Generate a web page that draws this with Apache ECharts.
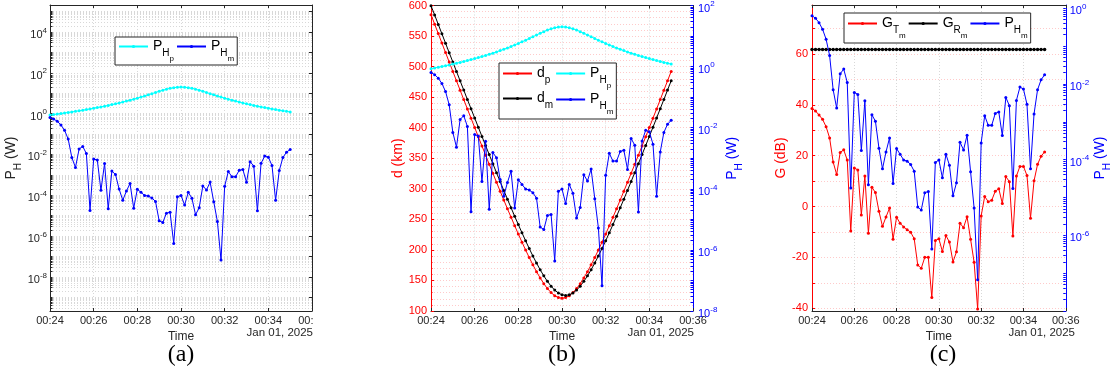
<!DOCTYPE html>
<html><head><meta charset="utf-8">
<script src="https://cdn.jsdelivr.net/npm/echarts@6/dist/echarts.min.js"></script>
<style>html,body{margin:0;padding:0;background:#fff}#c{width:1114px;height:379px}</style>
</head><body><div id="c"></div>
<script>
// ---------------- data ----------------
const timeSec = [0,10,20,30,40,50,60,70,80,90,100,110,120,130,140,150,160,170,180,190,200,210,220,230,240,250,260,270,280,290,300,310,320,330,340,350,360,370,380,390,400,410,420,430,440,450,460,470,480,490,500,510,520,530,540,550,560,570,580,590,600,610,620,630,640,650,660];
const timeTickLabels = ['00:24','00:26','00:28','00:30','00:32','00:34','00:36'];
const PHp = [0.854,0.902,0.953,1.008,1.069,1.135,1.207,1.287,1.374,1.470,
 1.576,1.694,1.825,1.971,2.134,2.318,2.526,2.761,3.028,3.334,
 3.684,4.088,4.555,5.097,5.728,6.465,7.324,8.326,9.487,10.82,
 12.32,13.95,15.65,17.29,18.68,19.63,19.97,19.63,18.68,17.29,
 15.65,13.95,12.32,10.82,9.487,8.326,7.324,6.465,5.728,5.097,
 4.555,4.088,3.684,3.334,3.028,2.761,2.526,2.318,2.134,1.971,
 1.825,1.694,1.576,1.470,1.374,1.287,1.207];
const PHm = [6.40e-1,5.45e-1,4.18e-1,2.79e-1,1.52e-1,5.65e-2,7.03e-3,2.31e-3,1.86e-2,2.47e-2,
 1.10e-2,1.77e-5,5.98e-3,5.30e-3,1.74e-4,3.61e-3,2.16e-5,1.54e-3,1.03e-3,2.00e-4,
 5.71e-5,1.60e-4,3.75e-4,2.34e-5,1.96e-4,1.39e-4,9.86e-5,9.10e-5,7.43e-5,4.95e-5,
 5.58e-6,4.66e-6,1.33e-5,1.45e-5,4.37e-7,8.39e-5,9.86e-5,3.31e-5,1.39e-4,7.13e-5,
 1.11e-5,2.44e-5,2.88e-4,1.81e-4,4.41e-4,4.76e-5,5.25e-6,6.65e-8,2.77e-4,1.45e-3,
 8.09e-4,8.09e-4,1.67e-3,1.82e-3,4.32e-4,4.42e-3,2.67e-3,1.73e-5,3.68e-3,8.26e-3,
 7.33e-3,2.89e-3,5.71e-5,1.61e-3,7.03e-3,1.29e-2,1.75e-2];
const dp = [585.0,569.5,554.0,538.5,523.0,507.5,492.1,476.7,461.3,446.0,
 430.7,415.5,400.3,385.2,370.1,355.1,340.2,325.4,310.7,296.1,
 281.7,267.4,253.4,239.5,225.9,212.7,199.8,187.4,175.6,164.4,
 154.1,144.8,136.7,130.1,125.1,122.0,121.0,122.0,125.1,130.1,
 136.7,144.8,154.1,164.4,175.6,187.4,199.8,212.7,225.9,239.5,
 253.4,267.4,281.7,296.1,310.7,325.4,340.2,355.1,370.1,385.2,
 400.3,415.5,430.7,446.0,461.3,476.7,492.1];
const dm = [599.6,584.6,569.1,553.6,538.2,522.8,507.5,492.1,476.7,461.5,
 446.2,431.1,415.9,400.8,385.8,370.8,356.0,341.1,326.4,311.9,
 297.4,283.1,269.0,255.0,241.4,228.0,214.9,202.2,190.0,178.5,
 167.5,157.5,148.5,140.6,134.2,129.4,126.5,125.5,126.5,129.4,
 134.2,140.6,148.5,157.5,167.5,178.5,190.0,202.2,214.9,228.0,
 241.4,255.0,269.0,283.1,297.4,311.9,326.4,341.1,356.0,370.8,
 385.8,400.8,415.9,431.1,446.2,461.5,476.7];
const GTm = [38.6,37.6,36.0,34.3,31.4,27.0,17.5,12.6,21.3,22.3,
 18.3,-9.6,15.2,14.4,-3.3,12.0,-10.5,7.6,5.5,-1.9,
 -7.8,-4.1,-0.6,-12.9,-4.2,-6.6,-8.0,-9.1,-10.1,-12.7,
 -23.0,-24.3,-20.0,-20.0,-35.8,-13.4,-12.7,-17.7,-11.4,-14.0,
 -21.8,-17.8,-6.6,-8.3,-4.0,-12.9,-21.9,-40.3,-3.7,4.0,
 1.9,2.5,6.0,7.0,1.2,11.8,9.8,-11.6,12.0,15.8,
 15.8,12.2,-4.6,10.1,16.6,19.8,21.5];
const GRm = [61.8,61.8,61.8,61.8,61.8,61.8,61.8,61.8,61.8,61.8,
 61.8,61.8,61.8,61.8,61.8,61.8,61.8,61.8,61.8,61.8,
 61.8,61.8,61.8,61.8,61.8,61.8,61.8,61.8,61.8,61.8,
 61.8,61.8,61.8,61.8,61.8,61.8,61.8,61.8,61.8,61.8,
 61.8,61.8,61.8,61.8,61.8,61.8,61.8,61.8,61.8,61.8,
 61.8,61.8,61.8,61.8,61.8,61.8,61.8,61.8,61.8,61.8,
 61.8,61.8,61.8,61.8,61.8,61.8,61.8];
const expLabelsA = [-8,-6,-4,-2,0,2,4];
const expLabelsB = [-8,-6,-4,-2,0,2];
const expLabelsC = [-6,-4,-2,0];
const dTicksC = [-40,-20,0,20,40,60];
const dGridC = [-40,-30,-20,-10,0,10,20,30,40,50,60,70];
const dateLabel = 'Jan 01, 2025';
const captions = ['(a)','(b)','(c)'];

// ---------------- helpers ----------------
const F = 'Liberation Sans, Arial, sans-serif';
const DARK = '#262626';
const RED = '#ff0000', BLUE = '#0000ff', CYAN = '#00ffff', BLACK = '#000000';
const PINK = '#ffcaca';
const GRAY = '#d8d8d8';
function minorLog(lo, hi) {
  const out = [];
  for (let n = Math.floor(lo); n <= Math.ceil(hi); n++)
    for (let k = 1; k <= 9; k++) { const v = n + Math.log10(k); if (v >= lo - 1e-9 && v <= hi + 1e-9) out.push(v); }
  return out;
}
function decades(lo, hi) { const o = []; for (let n = Math.ceil(lo); n <= Math.floor(hi); n++) o.push(n); return o; }
function logRich(color) {
  return {
    b: {fontSize: 11, fontFamily: F, color: color, lineHeight: 11, padding: [3,0,0,0], verticalAlign: 'top'},
    e: {fontSize: 8, fontFamily: F, color: color, lineHeight: 8, verticalAlign: 'top'}
  };
}
function nameRich(color) {
  return {
    a: {fontSize: 14, fontFamily: F, color: color, lineHeight: 15, padding: [0,0,6,0], verticalAlign: 'top'},
    s: {fontSize: 10, fontFamily: F, color: color, lineHeight: 10, padding: [9,0,0,0], verticalAlign: 'top'}
  };
}
const legRich = {
  P: {fontSize: 14, fontFamily: F, color: '#000', lineHeight: 15, padding: [0,0,9,0], verticalAlign: 'top'},
  s1: {fontSize: 10, fontFamily: F, color: '#000', lineHeight: 10, padding: [9,0,0,0], verticalAlign: 'top'},
  s2: {fontSize: 8, fontFamily: F, color: '#000', lineHeight: 8, padding: [16,0,0,0], verticalAlign: 'top'}
};
const legText = {
  aPHp: '{P|P}{s1|H}{s2|p}', aPHm: '{P|P}{s1|H}{s2|m}',
  bdp: '{P|d}{s1|p}', bdm: '{P|d}{s1|m}', bPHp: '{P|P}{s1|H}{s2|p}', bPHm: '{P|P}{s1|H}{s2|m}',
  cGT: '{P|G}{s1|T}{s2|m}', cGR: '{P|G}{s1|R}{s2|m}', cPHm: '{P|P}{s1|H}{s2|m}'
};
const logFmt = v => '{b|10}{e|' + Math.round(v) + '}';
const PH_NAME = '{a|P}{s|H}{a| (W)}';

const gridPos = [{left: 50}, {left: 431}, {left: 812}];
const grids = gridPos.map(g => ({left: g.left, top: 5, width: 262, height: 306, containLabel: false}));

function xBottom(gi) {
  return {type: 'value', gridIndex: gi, position: 'bottom', min: 0, max: 720, interval: 120,
    axisLine: {show: true, onZero: false, lineStyle: {color: DARK, width: 1}},
    axisTick: {show: true, inside: true, length: 3, lineStyle: {color: DARK}},
    axisLabel: {formatter: v => timeTickLabels[Math.round(v / 120)], color: DARK, fontSize: 11, fontFamily: F, margin: 4, showMinLabel: true, showMaxLabel: true},
    splitLine: {show: true, lineStyle: {color: GRAY, type: [1, 2]}},
    name: 'Time', nameLocation: 'middle', nameGap: 16, nameTextStyle: {color: DARK, fontSize: 12, fontFamily: F}};
}
function xTop(gi) {
  return {type: 'value', gridIndex: gi, position: 'top', min: 0, max: 720, interval: 120,
    axisLine: {show: true, onZero: false, lineStyle: {color: DARK, width: 1}},
    axisTick: {show: true, inside: true, length: 3, lineStyle: {color: DARK}},
    axisLabel: {show: false}, splitLine: {show: false}};
}
const A_MIN = -9.67, A_MAX = 5.32, C_LMIN = -41.1, C_LMAX = 79.3, C_RMIN = -8, C_RMAX = 0.087;

const yAxes = [
  // (a) left
  {type: 'value', gridIndex: 0, position: 'left', min: A_MIN, max: A_MAX,
    axisLine: {show: true, onZero: false, lineStyle: {color: DARK}},
    axisTick: {show: true, inside: true, length: 2.5, customValues: minorLog(A_MIN, A_MAX), lineStyle: {color: DARK}},
    axisLabel: {customValues: expLabelsA, formatter: logFmt, rich: logRich(DARK), margin: 3},
    splitLine: {show: true, lineStyle: {color: GRAY, type: [1, 2]}},
    name: PH_NAME, nameLocation: 'middle', nameGap: 25, nameRotate: 90, nameTextStyle: {rich: nameRich(DARK)}},
  // (a) right (box)
  {type: 'value', gridIndex: 0, position: 'right', min: A_MIN, max: A_MAX,
    axisLine: {show: true, onZero: false, lineStyle: {color: DARK}},
    axisTick: {show: true, inside: true, length: 3, customValues: decades(A_MIN, A_MAX), lineStyle: {color: DARK}},
    axisLabel: {show: false}, splitLine: {show: false}},
  // (b) left
  {type: 'value', gridIndex: 1, position: 'left', min: 100, max: 600, interval: 50,
    axisLine: {show: true, onZero: false, lineStyle: {color: RED}},
    axisTick: {show: true, inside: true, length: 3, lineStyle: {color: RED}},
    minorTick: {show: true, splitNumber: 5, length: 1.5, lineStyle: {color: RED}},
    axisLabel: {color: RED, fontSize: 11, fontFamily: F, margin: 4, showMinLabel: true, showMaxLabel: true},
    splitLine: {show: true, lineStyle: {color: PINK, type: [1, 2]}},
    minorSplitLine: {show: true, lineStyle: {color: PINK, type: [1, 2]}},
    name: 'd (km)', nameLocation: 'middle', nameGap: 24, nameRotate: 90, nameTextStyle: {color: RED, fontSize: 14, fontFamily: F}},
  // (b) right
  {type: 'value', gridIndex: 1, position: 'right', min: -8, max: 2, interval: 2,
    axisLine: {show: true, onZero: false, lineStyle: {color: BLUE}},
    axisTick: {show: true, inside: true, length: 2.5, customValues: minorLog(-8, 2), lineStyle: {color: BLUE}},
    axisLabel: {customValues: expLabelsB, formatter: logFmt, rich: logRich(BLUE), margin: 5},
    splitLine: {show: false},
    name: PH_NAME, nameLocation: 'middle', nameGap: 32, nameRotate: 90, nameTextStyle: {rich: nameRich(BLUE)}},
  // (c) left
  {type: 'value', gridIndex: 2, position: 'left', min: C_LMIN, max: C_LMAX,
    axisLine: {show: true, onZero: false, lineStyle: {color: RED}},
    axisTick: {show: true, inside: true, length: 3, customValues: dGridC, lineStyle: {color: RED}},
    axisLabel: {customValues: dTicksC, color: RED, fontSize: 11, fontFamily: F, margin: 4},
    splitLine: {show: true, lineStyle: {color: PINK, type: [1, 2]}},
    name: 'G (dB)', nameLocation: 'middle', nameGap: 24, nameRotate: 90, nameTextStyle: {color: RED, fontSize: 14, fontFamily: F}},
  // (c) right
  {type: 'value', gridIndex: 2, position: 'right', min: C_RMIN, max: C_RMAX,
    axisLine: {show: true, onZero: false, lineStyle: {color: BLUE}},
    axisTick: {show: true, inside: true, length: 2.5, customValues: minorLog(C_RMIN, C_RMAX), lineStyle: {color: BLUE}},
    axisLabel: {customValues: expLabelsC, formatter: logFmt, rich: logRich(BLUE), margin: 4},
    splitLine: {show: false},
    name: PH_NAME, nameLocation: 'middle', nameGap: 21, nameRotate: 90, nameTextStyle: {rich: nameRich(BLUE)}}
];

function ser(name, xi, yi, vals, color, isLog, size, z) {
  return {name: name, type: 'line', xAxisIndex: xi, yAxisIndex: yi,
    data: timeSec.map((t, i) => [t, isLog ? Math.log10(vals[i]) : vals[i]]),
    symbol: 'circle', symbolSize: size || 3, showSymbol: true,
    lineStyle: {color: color, width: 1}, itemStyle: {color: color},
    z: z || 2, silent: true, animation: false};
}
const series = [
  ser('aPHp', 0, 0, PHp, CYAN, true, 3),
  ser('aPHm', 0, 0, PHm, BLUE, true, 3),
  ser('bdp', 2, 2, dp, RED, false, 3),
  ser('bdm', 2, 2, dm, BLACK, false, 3),
  ser('bPHp', 2, 3, PHp, CYAN, true, 3, 3),
  ser('bPHm', 2, 3, PHm, BLUE, true, 3, 3),
  ser('cGT', 4, 4, GTm, RED, false, 3),
  ser('cGR', 4, 4, GRm, BLACK, false, 3.5),
  ser('cPHm', 4, 5, PHm, BLUE, true, 3, 3)
];
function legend(extra) {
  return Object.assign({formatter: n => legText[n], textStyle: {rich: legRich},
    itemWidth: 29, itemHeight: 4, itemGap: 2, padding: [2, 3, 2, 3],
    borderColor: DARK, borderWidth: 1, backgroundColor: '#fff', selectedMode: false,
    inactiveColor: '#000'}, extra);
}
const legends = [
  legend({left: 115, top: 37, orient: 'horizontal', data: ['aPHp', 'aPHm']}),
  legend({left: 499, top: 63, orient: 'vertical', height: 66, padding: [3, 3, 3, 3], data: ['bdp', 'bdm', 'bPHp', 'bPHm']}),
  legend({left: 844, top: 13, orient: 'horizontal', padding: [3, 3, 3, 3], data: ['cGT', 'cGR', 'cPHm']})
];
const graphics = [];
gridPos.forEach((g, i) => {
  graphics.push({type: 'text', x: g.left + 262 + 1, y: 333, style: {text: dateLabel, align: 'right', verticalAlign: 'middle', font: '11.5px ' + F, fill: DARK}, z: 100});
  graphics.push({type: 'text', x: g.left + 131, y: 355, style: {text: captions[i], align: 'center', verticalAlign: 'middle', font: '24px Liberation Serif, Times New Roman, serif', fill: '#000'}, z: 100});
});
// crop of original panel (a) at its right edge
graphics.push({type: 'rect', shape: {x: 313.5, y: 313, width: 40, height: 16}, style: {fill: '#fff'}, z: 99});

const chart = echarts.init(document.getElementById('c'), null, {renderer: 'canvas'});
chart.setOption({
  animation: false, backgroundColor: '#fff',
  grid: grids,
  xAxis: [xBottom(0), xTop(0), xBottom(1), xTop(1), xBottom(2), xTop(2)],
  yAxis: yAxes,
  legend: legends,
  series: series,
  graphic: graphics
});
</script></body></html>
